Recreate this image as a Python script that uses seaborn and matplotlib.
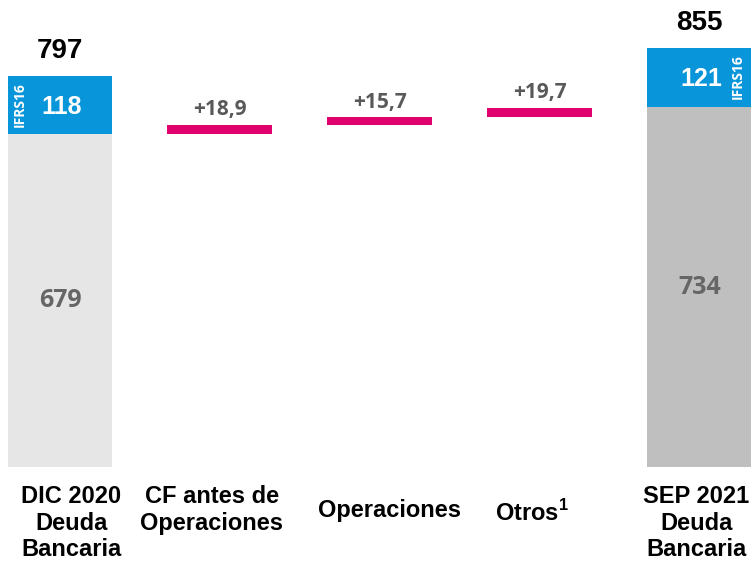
import matplotlib
matplotlib.use("Agg")
import matplotlib.pyplot as plt
import matplotlib.transforms as mtransforms
import seaborn as sns
import pandas as pd

# ---------------- data ----------------
categories = ["DIC 2020\nDeuda\nBancaria", "CF antes de\nOperaciones", "Operaciones",
              r"Otros$^{\mathbf{1}}$", "SEP 2021\nDeuda\nBancaria"]
end_cats = [categories[0], categories[4]]
end_base = [679, 734]          # deuda bancaria sin IFRS16
end_ifrs16 = [118, 121]        # IFRS16
end_total = [797, 855]
delta_cats = categories[1:4]
delta_values = [18.9, 15.7, 19.7]
delta_labels = ["+18,9", "+15,7", "+19,7"]

# ---------------- style ----------------
BLUE = "#0895DA"
PINK = "#E0006E"
GRAY_L = "#E6E6E6"
GRAY_R = "#BFBFBF"
TXT_GRAY = "#666666"
TXT_GRAY2 = "#595959"

sns.set_style("white")
plt.rcParams["font.family"] = ["Liberation Sans", "DejaVu Sans"]
plt.rcParams["mathtext.fontset"] = "custom"
plt.rcParams["mathtext.rm"] = "Liberation Sans"
plt.rcParams["mathtext.bf"] = "Liberation Sans:bold"

fig = plt.figure(figsize=(7.51, 5.65), dpi=100)
ax = fig.add_axes([0, 0, 1, 1])

W = 0.656
df_end = pd.DataFrame({"cat": end_cats, "total": end_total, "base": end_base})
df_delta = pd.DataFrame({"cat": delta_cats, "delta": delta_values})

# cumulative starts for floating bars
starts = []
cum = end_base[0]
for v in delta_values:
    starts.append(cum)
    cum += v

# totals (blue top segment) then base overlaid
sns.barplot(data=df_end, x="cat", y="total", order=categories, color=BLUE,
            width=W, errorbar=None, ax=ax, saturation=1, linewidth=0)
sns.barplot(data=df_end, x="cat", y="base", order=categories, hue="cat",
            palette={end_cats[0]: GRAY_L, end_cats[1]: GRAY_R}, legend=False,
            width=W, errorbar=None, ax=ax, saturation=1, linewidth=0)
sns.barplot(data=df_delta, x="cat", y="delta", order=categories, color=PINK,
            width=W, errorbar=None, ax=ax, saturation=1, linewidth=0,
            bottom=starts)

ax.set_xlim(-0.375, 4.32)
ax.set_ylim(-200, 953)
ax.axis("off")

end_x = [0, 4]
# base value labels
for xi, b in zip(end_x, end_base):
    ax.text(xi, b / 2, f"{b}", ha="center", va="center", fontsize=18,
            fontweight="bold", color=TXT_GRAY, family=["Open Sans", "DejaVu Sans"])
# IFRS16 values
for xi, b, v in zip(end_x, end_base, end_ifrs16):
    ax.text(xi + 0.01, b + v / 2 - 3, f"{v}", ha="center", va="center", fontsize=18,
            fontweight="bold", color="white")
# IFRS16 rotated tags
for xi, b, v in zip([-0.25, 4.24], end_base, end_ifrs16):
    ax.text(xi, b + v / 2 + 2, "IFRS16", ha="center", va="center", rotation=90,
            fontsize=10, fontweight="bold", color="white",
            family=["Open Sans", "DejaVu Sans"])
# totals
for xi, t in zip(end_x, end_total):
    ax.annotate(f"{t}", xy=(xi, t), xytext=(0, 13), textcoords="offset points",
                ha="center", va="baseline", fontsize=20, fontweight="bold", color="black")
# deltas
for i, (s, v, lab) in enumerate(zip(starts, delta_values, delta_labels)):
    ax.annotate(lab, xy=(i + 1, s + v), xytext=(0, 7), textcoords="offset points",
                ha="center", va="baseline", fontsize=15, fontweight="bold",
                color=TXT_GRAY2, family=["Open Sans", "DejaVu Sans"])

# category labels
trans = mtransforms.blended_transform_factory(ax.transData, fig.transFigure)
cat_x = [0.07, 0.95, 2.06, 2.95, 3.98]
cat_y_px = [485, 485, 511, 513, 485]
cat_va = ["top", "top", "center", "center", "top"]
for lab, cx, cy, va in zip(categories, cat_x, cat_y_px, cat_va):
    ax.text(cx, 1 - cy / 565, lab, transform=trans, ha="center", va=va,
            fontsize=17, fontweight="bold", color="black", linespacing=1.2)

fig.savefig("out.png", dpi=100)
